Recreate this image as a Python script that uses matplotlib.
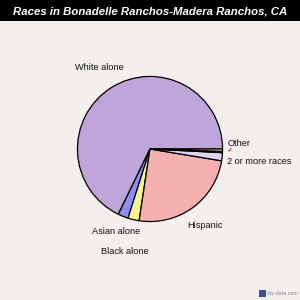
import matplotlib
matplotlib.use("Agg")
import matplotlib.pyplot as plt

labels = ["White alone", "Asian alone", "Black alone", "Hispanic", "2 or more races", "Native", "Other"]
values = [67.8, 2.3, 2.5, 24.8, 1.8, 0.3, 0.5]
colors = ["#BEA6DA", "#8E8EF2", "#F8F590", "#F5B0B0", "#DDD2F0", "#6B4A3A", "#F7D9A6"]

BG = "#F2EFEC"
W = H = 300
fig = plt.figure(figsize=(3, 3), dpi=100, facecolor=BG)

def px(x, y):
    return x / W, 1 - y / H

# title bar
tb = fig.add_axes([0, 1 - 21 / H, 1, 21 / H])
tb.set_facecolor("black")
tb.set_xticks([]); tb.set_yticks([])
for s in tb.spines.values():
    s.set_visible(False)
fig.text(0.5, 1 - 11 / H, "Races in Bonadelle Ranchos-Madera Ranchos, CA",
         color="white", ha="center", va="center", fontsize=8.2,
         fontstyle="italic", fontweight="bold", family="Liberation Sans")

cx, cy, r = 150, 149, 74
ax = fig.add_axes([(cx - r) / W, 1 - (cy + r) / H, 2 * r / W, 2 * r / H])
ax.set_facecolor("none")
ax.pie(values, colors=colors, startangle=0, counterclock=True, radius=1,
       wedgeprops=dict(edgecolor="black", linewidth=0.9))
ax.set_xlim(-1.02, 1.02)
ax.set_ylim(-1.02, 1.02)
ax.set_aspect("equal")
ax.axis("off")

lab_pos = {
    "White alone": (75, 68, "left"),
    "Other": (228, 143, "left"),
    "2 or more races": (227, 162, "left"),
    "Hispanic": (187, 226, "left"),
    "Asian alone": (92, 232, "left"),
    "Black alone": (101, 251, "left"),
}
for name, (x, y, ha) in lab_pos.items():
    fx, fy = px(x, y)
    fig.text(fx, fy, name, ha=ha, va="center", fontsize=6.6,
             family="Liberation Sans", color="#111111")

# small red leader near "Other"
x0, y0 = px(229, 151)
x1, y1 = px(231, 149)
fig.add_artist(plt.Line2D([x0, x1], [y0, y1], color="red", linewidth=0.8))

# watermark
wm = fig.add_axes([*px(259, 297), 7 / W, 7 / H])
wm.set_facecolor("#3A4E8A")
wm.set_xticks([]); wm.set_yticks([])
for s in wm.spines.values():
    s.set_visible(False)
fx, fy = px(267, 293)
fig.text(fx, fy, "city-data.com", fontsize=3.8, color="#8A8A8A",
         ha="left", va="center", family="Liberation Sans")

fig.savefig("out.png", dpi=100, facecolor=BG)
